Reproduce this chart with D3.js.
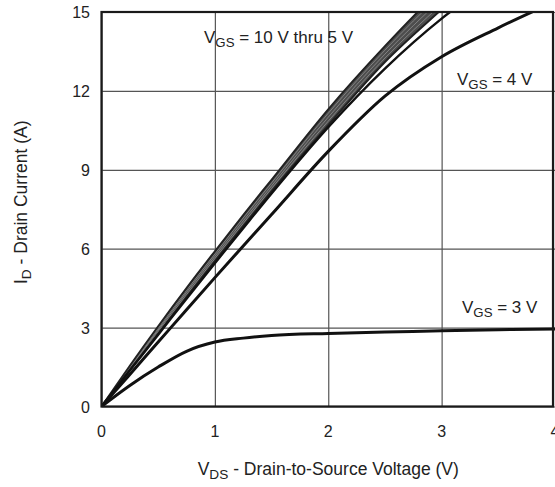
<!DOCTYPE html>
<html>
<head>
<meta charset="utf-8">
<script src="https://cdn.jsdelivr.net/npm/d3@7"></script>
<style>
  body { margin: 0; background: #fff; }
  text { font-family: "Liberation Sans", Arial, sans-serif; fill: #222; }
</style>
</head>
<body>
<svg id="chart" width="555" height="487"></svg>
<script>
// drain-source voltage samples (V)
const vds = [0, 0.25, 0.5, 0.75, 1, 1.25, 1.5, 2, 2.5, 3, 3.5, 4];

// drain current (A) per gate voltage
const id10 = [0, 1.55, 3.05, 4.5, 5.9, 7.28, 8.62, 11.3, 13.7, 15.9, 17.8, 19.5];
const id9 = [0, 1.51, 2.98, 4.42, 5.8, 7.17, 8.5, 11.15, 13.55, 15.7, 17.6, 19.3];
const id8 = [0, 1.47, 2.91, 4.34, 5.71, 7.06, 8.39, 11.0, 13.4, 15.5, 17.4, 19.1];
const id7 = [0, 1.43, 2.84, 4.25, 5.62, 6.96, 8.29, 10.85, 13.25, 15.3, 17.2, 18.9];
const id6 = [0, 1.39, 2.77, 4.16, 5.53, 6.86, 8.18, 10.7, 13.1, 15.1, 17.0, 18.7];
const id5 = [0, 1.37, 2.73, 4.1, 5.45, 6.78, 8.1, 10.62, 12.85, 14.75, 16.3, 17.8];
const id4 = [0, 1.22, 2.45, 3.68, 4.9, 6.1, 7.3, 9.7, 11.8, 13.3, 14.4, 15.4];
const id3 = [0, 0.8, 1.5, 2.1, 2.45, 2.6, 2.7, 2.78, 2.83, 2.88, 2.92, 2.95];

const xTicks = [0, 1, 2, 3, 4];
const yTicks = [0, 3, 6, 9, 12, 15];

const svg = d3.select("#chart");
const x = d3.scaleLinear().domain([0, 4]).range([101.5, 555]);
const y = d3.scaleLinear().domain([0, 15]).range([406.5, 12]);

svg.append("defs").append("clipPath").attr("id", "plot")
    .append("rect")
    .attr("x", x(0)).attr("y", y(15))
    .attr("width", x(4) - x(0)).attr("height", y(0) - y(15));

// grid
svg.append("g")
    .attr("transform", `translate(0,${y(0)})`)
    .call(d3.axisBottom(x).tickValues(xTicks).tickSize(-(y(0) - y(15))).tickFormat(""))
    .call(g => g.select(".domain").remove())
    .selectAll("line").attr("stroke", "#555").attr("stroke-width", 1.2);

svg.append("g")
    .attr("transform", `translate(${x(0)},0)`)
    .call(d3.axisLeft(y).tickValues(yTicks).tickSize(-(x(4) - x(0))).tickFormat(""))
    .call(g => g.select(".domain").remove())
    .selectAll("line").attr("stroke", "#555").attr("stroke-width", 1.2);

// tick labels
svg.append("g").selectAll("text")
    .data(xTicks).join("text")
    .attr("x", d => x(d)).attr("y", 437)
    .attr("text-anchor", "middle").attr("font-size", 16)
    .text(d => d);

svg.append("g").selectAll("text")
    .data(yTicks).join("text")
    .attr("x", 90).attr("y", d => y(d) + 6)
    .attr("text-anchor", "end").attr("font-size", 16)
    .text(d => d);

// curves
const line = d3.line()
    .x((d, i) => x(vds[i]))
    .y(d => y(d))
    .curve(d3.curveMonotoneX);

const band = d3.area()
    .x((d, i) => x(vds[i]))
    .y0((d, i) => y(id6[i]))
    .y1(d => y(d))
    .curve(d3.curveMonotoneX);

const curves = svg.append("g").attr("clip-path", "url(#plot)").attr("fill", "none");

// 10 V thru 6 V overlap into one grey band
curves.append("path")
    .attr("d", band(id10))
    .attr("fill", "#4d4d4d");

curves.selectAll("path.inner")
    .data([id9, id8, id7]).join("path")
    .attr("class", "inner")
    .attr("d", line)
    .attr("stroke", "#9a9a9a")
    .attr("stroke-width", 0.7);

curves.selectAll("path.edge")
    .data([id10, id6]).join("path")
    .attr("class", "edge")
    .attr("d", line)
    .attr("stroke", "#222")
    .attr("stroke-width", 2);

curves.selectAll("path.single")
    .data([id5, id4, id3]).join("path")
    .attr("class", "single")
    .attr("d", line)
    .attr("stroke", "#111")
    .attr("stroke-width", (d, i) => i === 0 ? 2.4 : 3);

// frame
svg.append("rect")
    .attr("x", x(0)).attr("y", y(15))
    .attr("width", 553 - x(0)).attr("height", y(0) - y(15))
    .attr("fill", "none").attr("stroke", "#1a1a1a").attr("stroke-width", 2.2);

// labels with subscripts
function label(px, py, pre, sub, post, size, anchor) {
    const t = svg.append("text")
        .attr("x", px).attr("y", py)
        .attr("font-size", size)
        .attr("text-anchor", anchor || "start");
    t.append("tspan").text(pre);
    t.append("tspan").attr("font-size", size * 0.78).attr("dy", 4).text(sub);
    t.append("tspan").attr("dy", -4).text(post);
    return t;
}

label(204, 43, "V", "GS", " = 10 V thru 5 V", 17);
label(457, 85, "V", "GS", " = 4 V", 17);
label(462, 313, "V", "GS", " = 3 V", 17);

label(x(2), 475, "V", "DS", " - Drain-to-Source Voltage (V)", 17.5, "middle");

label(0, 0, "I", "D", " - Drain Current (A)", 17.5, "middle")
    .attr("transform", `translate(27,${(y(0) + y(15)) / 2 - 7}) rotate(-90)`);
</script>
</body>
</html>
